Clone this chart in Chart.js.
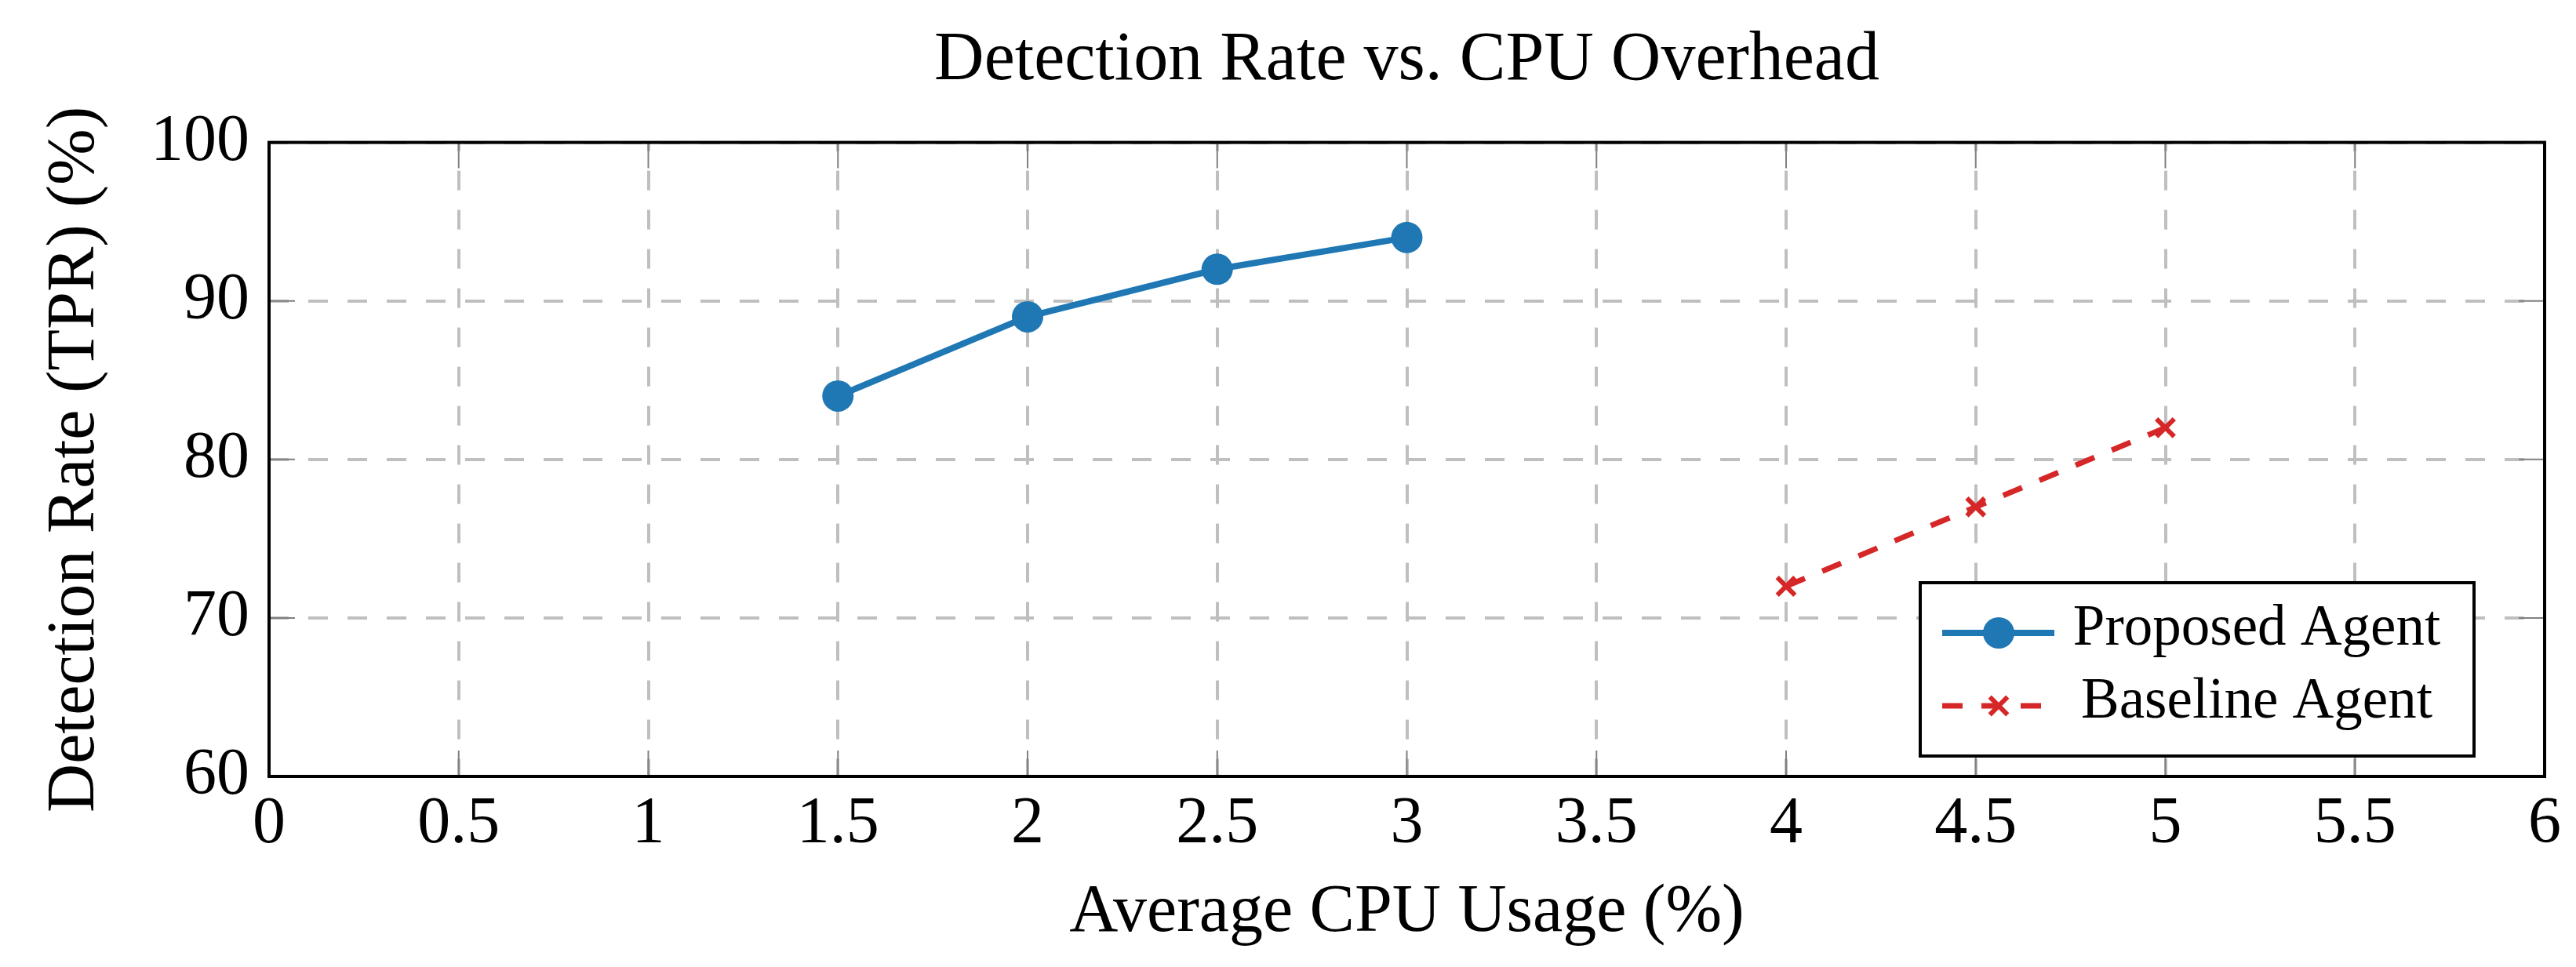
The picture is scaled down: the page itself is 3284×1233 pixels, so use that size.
<!DOCTYPE html>
<html>
<head>
<meta charset="utf-8">
<script src="https://cdn.jsdelivr.net/npm/chart.js@4.4.1/dist/chart.umd.min.js"></script>
<style>
  html, body { margin: 0; padding: 0; background: #fff; }
  #wrap { width: 3284px; height: 1233px; }
</style>
</head>
<body>
<div id="wrap"><canvas id="cpuChart" width="3284" height="1233"></canvas></div>
<script>
const proposedCpu = [1.5, 2, 2.5, 3];
const proposedTpr = [84, 89, 92, 94];
const baselineCpu = [4, 4.5, 5];
const baselineTpr = [72, 77, 82];
const xTicks = [0, 0.5, 1, 1.5, 2, 2.5, 3, 3.5, 4, 4.5, 5, 5.5, 6];
const xTickLabels = ['0', '0.5', '1', '1.5', '2', '2.5', '3', '3.5', '4', '4.5', '5', '5.5', '6'];
const yTicks = [60, 70, 80, 90, 100];
const yTickLabels = ['60', '70', '80', '90', '100'];
const seriesNames = ['Proposed Agent', 'Baseline Agent'];

const FONT = "'Liberation Serif', 'DejaVu Serif', serif";
const BLUE = '#1f77b4';
const RED = '#d62728';

// pgfplots style frame + inner tick marks
const framePlugin = {
    id: 'frame',
    beforeDatasetsDraw(chart) {
        const { ctx, chartArea: a, scales } = chart;
        const len = 33;
        ctx.save();
        ctx.strokeStyle = '#808080';
        ctx.lineWidth = 2;
        ctx.beginPath();
        scales.x.ticks.forEach(t => {
            const x = scales.x.getPixelForValue(t.value);
            ctx.moveTo(x, a.bottom); ctx.lineTo(x, a.bottom - len);
            ctx.moveTo(x, a.top); ctx.lineTo(x, a.top + len);
        });
        scales.y.ticks.forEach(t => {
            const y = scales.y.getPixelForValue(t.value);
            ctx.moveTo(a.left, y); ctx.lineTo(a.left + len, y);
            ctx.moveTo(a.right, y); ctx.lineTo(a.right - len, y);
        });
        ctx.stroke();
        ctx.restore();
    },
    afterDatasetsDraw(chart) {
        const { ctx, chartArea: a } = chart;
        ctx.save();
        ctx.strokeStyle = '#000';
        ctx.lineWidth = 4;
        ctx.strokeRect(a.left, a.top, a.right - a.left, a.bottom - a.top);
        ctx.restore();
    }
};

const legendPlugin = {
    id: 'boxLegend',
    afterDraw(chart) {
        const { ctx, chartArea: a } = chart;
        const w = 706, h = 221;
        const left = a.right - 90 - w;
        const top = a.bottom - 26 - h;
        ctx.save();
        ctx.fillStyle = '#fff';
        ctx.fillRect(left, top, w, h);
        ctx.strokeStyle = '#000';
        ctx.lineWidth = 4;
        ctx.strokeRect(left, top, w, h);

        const rows = [top + 64, top + 157];
        const x1 = left + 28, x2 = left + 171, xm = left + 100;

        // proposed
        ctx.strokeStyle = BLUE;
        ctx.lineWidth = 8;
        ctx.beginPath(); ctx.moveTo(x1, rows[0]); ctx.lineTo(x2, rows[0]); ctx.stroke();
        ctx.fillStyle = BLUE;
        ctx.beginPath(); ctx.arc(xm, rows[0], 20, 0, Math.PI * 2); ctx.fill();

        // baseline
        ctx.strokeStyle = RED;
        ctx.lineWidth = 7;
        ctx.setLineDash([26, 24]);
        ctx.beginPath(); ctx.moveTo(x1, rows[1]); ctx.lineTo(x2 - 10, rows[1]); ctx.stroke();
        ctx.setLineDash([]);
        ctx.lineWidth = 6;
        const r = 16 * Math.SQRT1_2;
        ctx.beginPath();
        ctx.moveTo(xm - r, rows[1] - r); ctx.lineTo(xm + r, rows[1] + r);
        ctx.moveTo(xm - r, rows[1] + r); ctx.lineTo(xm + r, rows[1] - r);
        ctx.stroke();

        ctx.fillStyle = '#000';
        ctx.font = '73px ' + FONT;
        ctx.textAlign = 'center';
        ctx.textBaseline = 'middle';
        ctx.fillText(seriesNames[0], left + 429, rows[0] - 4);
        ctx.fillText(seriesNames[1], left + 429, rows[1] - 4);
        ctx.restore();
    }
};

const ctx = document.getElementById('cpuChart').getContext('2d');
new Chart(ctx, {
    type: 'scatter',
    data: {
        datasets: [
            {
                label: seriesNames[0],
                data: proposedCpu.map((x, i) => ({ x: x, y: proposedTpr[i] })),
                showLine: true,
                borderColor: BLUE,
                backgroundColor: BLUE,
                borderWidth: 8,
                pointStyle: 'circle',
                pointRadius: 20,
                pointBorderWidth: 0,
                tension: 0
            },
            {
                label: seriesNames[1],
                data: baselineCpu.map((x, i) => ({ x: x, y: baselineTpr[i] })),
                showLine: true,
                borderColor: RED,
                backgroundColor: RED,
                borderWidth: 7,
                borderDash: [26, 24],
                pointStyle: 'crossRot',
                pointRadius: 16,
                pointBorderWidth: 6,
                tension: 0
            }
        ]
    },
    options: {
        responsive: false,
        animation: false,
        devicePixelRatio: 1,
        layout: { padding: { top: 0, left: 0, right: 40, bottom: 0 } },
        plugins: {
            legend: { display: false },
            tooltip: { enabled: false },
            title: {
                display: true,
                fullSize: false,
                text: 'Detection Rate vs. CPU Overhead',
                color: '#000',
                font: { family: FONT, size: 88, weight: 'normal' },
                padding: { top: 25, bottom: 51 }
            }
        },
        scales: {
            x: {
                type: 'linear',
                min: 0,
                max: 6,
                afterBuildTicks: scale => { scale.ticks = xTicks.map(v => ({ value: v })); },
                afterFit: scale => { scale.height = 243; },
                ticks: {
                    color: '#000',
                    font: { family: FONT, size: 84 },
                    padding: 12,
                    maxRotation: 0,
                    autoSkip: false,
                    callback: (v) => xTickLabels[xTicks.indexOf(v)]
                },
                grid: { color: '#bfbfbf', lineWidth: 4, drawTicks: false },
                border: { display: false, dash: [25, 25], dashOffset: 14 },
                title: {
                    display: true,
                    text: 'Average CPU Usage (%)',
                    color: '#000',
                    font: { family: FONT, size: 86 },
                    padding: { top: 0, bottom: 17 }
                }
            },
            y: {
                type: 'linear',
                min: 60,
                max: 100,
                afterBuildTicks: scale => { scale.ticks = yTicks.map(v => ({ value: v })); },
                afterFit: scale => { scale.width = 343; },
                ticks: {
                    color: '#000',
                    font: { family: FONT, size: 84 },
                    padding: 25,
                    callback: (v) => yTickLabels[yTicks.indexOf(v)]
                },
                grid: { color: '#bfbfbf', lineWidth: 4, drawTicks: false },
                border: { display: false, dash: [25, 25], dashOffset: 0 },
                title: {
                    display: true,
                    text: 'Detection Rate (TPR) (%)',
                    color: '#000',
                    font: { family: FONT, size: 86 },
                    padding: { top: 45, bottom: 0 }
                }
            }
        }
    },
    plugins: [framePlugin, legendPlugin]
});
</script>
</body>
</html>
